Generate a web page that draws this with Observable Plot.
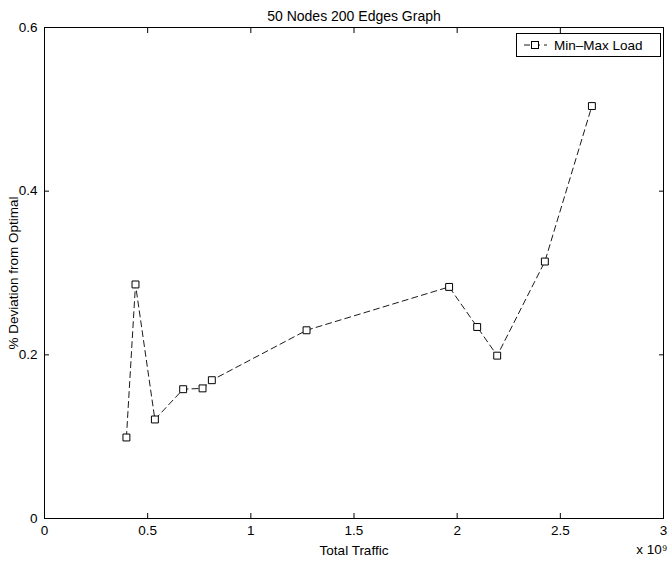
<!DOCTYPE html>
<html>
<head>
<meta charset="utf-8">
<script src="https://cdn.jsdelivr.net/npm/d3@7"></script>
<script src="https://cdn.jsdelivr.net/npm/@observablehq/plot@0.6"></script>
<style>
  html, body { margin: 0; padding: 0; background: #fff; }
  #wrap { position: relative; width: 669px; height: 561px; font-family: "Liberation Sans", Arial, Helvetica, sans-serif; }
  #legend { position: absolute; left: 516px; top: 33px; width: 143px; height: 22px; border: 1px solid #000; background: #fff;
            display: flex; align-items: center; font-size: 13.5px; color: #000; }
  #legend svg { margin-left: 6px; margin-right: 7px; }
</style>
</head>
<body>
<div id="wrap"><div id="legend"></div></div>
<script>
// Data (Total Traffic in units of 1e9)
const traffic   = [0.397, 0.441, 0.535, 0.672, 0.766, 0.811, 1.270, 1.961, 2.097, 2.194, 2.425, 2.653];
const deviation = [0.099, 0.286, 0.121, 0.158, 0.159, 0.169, 0.230, 0.283, 0.234, 0.199, 0.314, 0.504];
const xTicks = [0, 0.5, 1, 1.5, 2, 2.5, 3];
const xTickLabels = ["0", "0.5", "1", "1.5", "2", "2.5", "3"];
const yTicks = [0, 0.2, 0.4, 0.6];
const yTickLabels = ["0", "0.2", "0.4", "0.6"];
const seriesName = "Min\u2013Max Load";
const titleText = "50 Nodes 200 Edges Graph";
const xLabel = "Total Traffic";
const yLabel = "% Deviation from Optimal";
const xExponent = "x 10\u2079";

const data = traffic.map((t, i) => ({traffic: t, deviation: deviation[i]}));
const fmtX = d => xTickLabels[xTicks.indexOf(d)];
const fmtY = d => yTickLabels[yTicks.indexOf(d)];
const blank = () => "";

const chart = Plot.plot({
  width: 669,
  height: 561,
  marginLeft: 44,
  marginRight: 6,
  marginTop: 27,
  marginBottom: 43,
  style: {fontFamily: '"Liberation Sans", Arial, Helvetica, sans-serif', fontSize: "13.5px", background: "#fff", color: "#000"},
  x: {domain: [0, 3]},
  y: {domain: [0, 0.6]},
  marks: [
    Plot.frame({stroke: "#000", strokeWidth: 1}),
    Plot.axisX({ticks: xTicks, tickFormat: fmtX, tickSize: 0, tickPadding: 7, fontSize: 13.5,
                label: xLabel, labelAnchor: "center", labelOffset: 36, labelArrow: "none"}),
    Plot.axisX({ticks: xTicks, tickFormat: blank, tickSize: -5, label: null}),
    Plot.axisX({anchor: "top", ticks: xTicks, tickFormat: blank, tickSize: -5, label: null}),
    Plot.axisY({ticks: yTicks, tickFormat: fmtY, tickSize: 0, tickPadding: 7, fontSize: 13.5,
                label: yLabel, labelAnchor: "center", labelOffset: 36, labelArrow: "none"}),
    Plot.axisY({ticks: yTicks, tickFormat: blank, tickSize: -5, label: null}),
    Plot.axisY({anchor: "right", ticks: yTicks, tickFormat: blank, tickSize: -5, label: null}),
    Plot.line(data, {x: "traffic", y: "deviation", stroke: "#000", strokeWidth: 0.9, strokeDasharray: "6,4"}),
    Plot.dot(data, {x: "traffic", y: "deviation", symbol: "square", r: 3.9, stroke: "#000", strokeWidth: 1, fill: "#fff"}),
    Plot.text([titleText], {text: d => d, frameAnchor: "top", dy: -16, fontSize: 14}),
    Plot.text([xExponent], {text: d => d, frameAnchor: "bottom-right", textAnchor: "end", dx: 4, dy: 35, fontSize: 13.5})
  ]
});
document.getElementById("wrap").insertBefore(chart, document.getElementById("legend"));

// Legend
const lg = d3.select("#legend");
const s = lg.append("svg").attr("width", 24).attr("height", 12);
s.append("line").attr("x1", 0).attr("x2", 24).attr("y1", 6).attr("y2", 6)
  .attr("stroke", "#000").attr("stroke-width", 0.9).attr("stroke-dasharray", "6,4").attr("stroke-dashoffset", -1);
s.append("rect").attr("x", 8.5).attr("y", 2.5).attr("width", 7).attr("height", 7)
  .attr("fill", "#fff").attr("stroke", "#000");
lg.append("span").text(seriesName);
</script>
</body>
</html>
